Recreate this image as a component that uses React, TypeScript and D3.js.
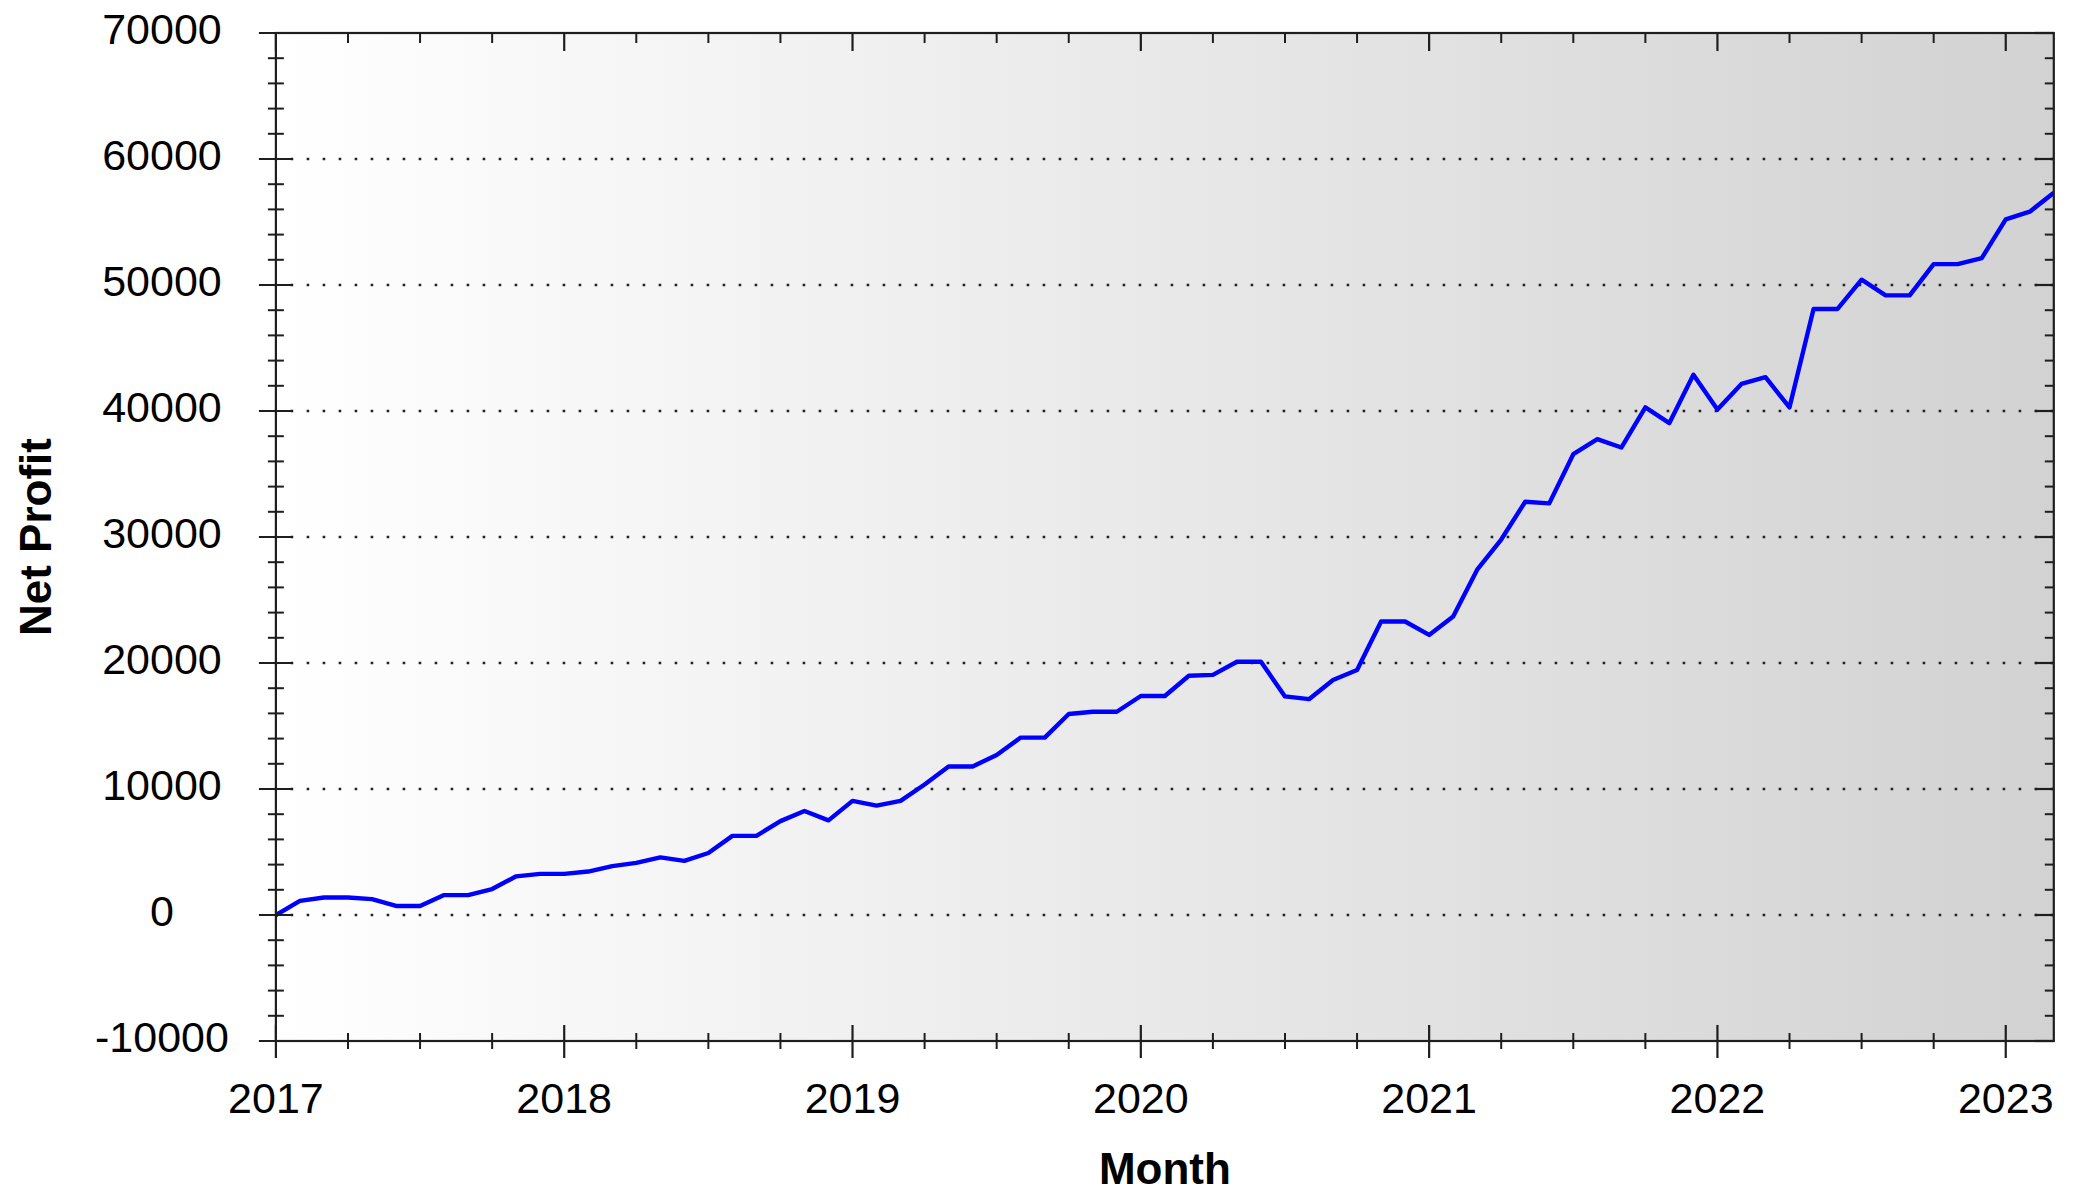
import React from "react";
import * as d3 from "d3";

// ---- data ----
const months = [
  "2017-01", "2017-02", "2017-03", "2017-04", "2017-05", "2017-06", "2017-07", "2017-08", "2017-09", "2017-10", "2017-11", "2017-12",
  "2018-01", "2018-02", "2018-03", "2018-04", "2018-05", "2018-06", "2018-07", "2018-08", "2018-09", "2018-10", "2018-11", "2018-12",
  "2019-01", "2019-02", "2019-03", "2019-04", "2019-05", "2019-06", "2019-07", "2019-08", "2019-09", "2019-10", "2019-11", "2019-12",
  "2020-01", "2020-02", "2020-03", "2020-04", "2020-05", "2020-06", "2020-07", "2020-08", "2020-09", "2020-10", "2020-11", "2020-12",
  "2021-01", "2021-02", "2021-03", "2021-04", "2021-05", "2021-06", "2021-07", "2021-08", "2021-09", "2021-10", "2021-11", "2021-12",
  "2022-01", "2022-02", "2022-03", "2022-04", "2022-05", "2022-06", "2022-07", "2022-08", "2022-09", "2022-10", "2022-11", "2022-12",
  "2023-01", "2023-02", "2023-03",
];

const netProfit = [
  0, 1120, 1390, 1390, 1260, 720, 720, 1580, 1580, 2060, 3070, 3260,
  3260, 3450, 3880, 4140, 4570, 4300, 4920, 6280, 6280, 7450, 8250, 7510,
  9060, 8680, 9060, 10360, 11790, 11790, 12700, 14080, 14080, 15950, 16130, 16130,
  17380, 17380, 18990, 19060, 20100, 20100, 17350, 17130, 18650, 19440, 23290, 23290,
  22230, 23690, 27410, 29800, 32800, 32670, 36570, 37770, 37100, 40290, 39040, 42870,
  40110, 42150, 42680, 40290, 48100, 48100, 50420, 49180, 49180, 51660, 51660, 52130,
  55210, 55820, 57320,
];

const yearLabels = ["2017", "2018", "2019", "2020", "2021", "2022", "2023"];
const yMajorTicks = [-10000, 0, 10000, 20000, 30000, 40000, 50000, 60000, 70000];
const yMinorStep = 2000;
const quarterMonths = ["01", "04", "07", "10"];

const xTitle = "Month";
const yTitle = "Net Profit";

// ---- layout ----
const W = 2080;
const H = 1192;
const PL = 275.9;
const PR = 2053.8;
const PT = 33;
const PB = 1041;
const FONT = "'Liberation Sans', Arial, Helvetica, sans-serif";
const AX = "#1e1e1e";

export default function App() {
  const x = d3.scaleLinear().domain([0, months.length - 1]).range([PL, PR]);
  const y = d3.scaleLinear().domain([-10000, 70000]).range([PB, PT]);

  const lineGen = d3
    .line<number>()
    .x((_, i) => x(i))
    .y((d) => y(d));

  const yMinor = d3.range(-10000, 70000 + 1, yMinorStep).filter((v) => !yMajorTicks.includes(v));
  const quarterIdx = months
    .map((m, i) => ({ m, i }))
    .filter((d) => quarterMonths.includes(d.m.slice(5)));
  const yearIdx = yearLabels.map((yr) => ({ yr, i: months.indexOf(yr + "-01") }));
  const minorX = quarterIdx.filter((d) => d.m.slice(5) !== "01");
  const gridVals = yMajorTicks.filter((v) => v !== -10000 && v !== 70000);

  return (
    <svg
      width={W}
      height={H}
      viewBox={`0 0 ${W} ${H}`}
      style={{ position: "absolute", left: 0, top: 0, display: "block", background: "#ffffff" }}
      fontFamily={FONT}
    >
      <defs>
        <linearGradient id="bg" x1="0" y1="0" x2="1" y2="0">
          <stop offset="0%" stopColor="#ffffff" />
          <stop offset="100%" stopColor="#d2d2d2" />
        </linearGradient>
        <clipPath id="plotclip">
          <rect x={PL} y={PT} width={PR - PL} height={PB - PT} />
        </clipPath>
      </defs>

      <rect x={PL} y={PT} width={PR - PL} height={PB - PT} fill="url(#bg)" />

      {/* dotted gridlines */}
      {gridVals.map((v) => (
        <line
          key={"g" + v}
          x1={PL - 1.25}
          x2={PR}
          y1={y(v)}
          y2={y(v)}
          stroke="#222222"
          strokeWidth={2.6}
          strokeDasharray="2.6 13.4"
        />
      ))}

      {/* data line */}
      <path
        d={lineGen(netProfit) || ""}
        fill="none"
        stroke="#0000ff"
        strokeWidth={4.4}
        strokeLinejoin="round"
        clipPath="url(#plotclip)"
      />

      {/* frame */}
      <rect x={PL} y={PT} width={PR - PL} height={PB - PT} fill="none" stroke={AX} strokeWidth={2.2} />

      {/* left axis ticks */}
      {yMajorTicks.map((v) => (
        <line key={"ylM" + v} x1={PL - 17} x2={PL + 17} y1={y(v)} y2={y(v)} stroke={AX} strokeWidth={2.2} />
      ))}
      {yMinor.map((v) => (
        <line key={"ylm" + v} x1={PL - 8} x2={PL + 8} y1={y(v)} y2={y(v)} stroke={AX} strokeWidth={2} />
      ))}
      {/* right axis ticks */}
      {yMajorTicks.map((v) => (
        <line key={"yrM" + v} x1={PR - 19} x2={PR} y1={y(v)} y2={y(v)} stroke={AX} strokeWidth={2.2} />
      ))}
      {yMinor.map((v) => (
        <line key={"yrm" + v} x1={PR - 9} x2={PR} y1={y(v)} y2={y(v)} stroke={AX} strokeWidth={2} />
      ))}

      {/* bottom axis ticks */}
      {yearIdx.map((d) => (
        <line key={"xbM" + d.yr} x1={x(d.i)} x2={x(d.i)} y1={PB - 16} y2={PB + 17} stroke={AX} strokeWidth={2.2} />
      ))}
      {minorX.map((d) => (
        <line key={"xbm" + d.m} x1={x(d.i)} x2={x(d.i)} y1={PB - 8} y2={PB + 8} stroke={AX} strokeWidth={2} />
      ))}
      {/* top axis ticks */}
      {yearIdx.map((d) => (
        <line key={"xtM" + d.yr} x1={x(d.i)} x2={x(d.i)} y1={PT} y2={PT + 18} stroke={AX} strokeWidth={2.2} />
      ))}
      {minorX.map((d) => (
        <line key={"xtm" + d.m} x1={x(d.i)} x2={x(d.i)} y1={PT} y2={PT + 10} stroke={AX} strokeWidth={2} />
      ))}

      {/* y tick labels */}
      {yMajorTicks.map((v) => (
        <text key={"yl" + v} x={162} y={y(v) + 11} textAnchor="middle" fontSize={43} fill="#000">
          {String(v)}
        </text>
      ))}

      {/* x tick labels */}
      {yearIdx.map((d) => (
        <text key={"xl" + d.yr} x={x(d.i)} y={1113} textAnchor="middle" fontSize={43} fill="#000">
          {d.yr}
        </text>
      ))}

      {/* axis titles */}
      <text x={(PL + PR) / 2} y={1184} textAnchor="middle" fontSize={44} fontWeight="bold" fill="#000">
        {xTitle}
      </text>
      <text
        transform={`translate(51, ${(PT + PB) / 2}) rotate(-90)`}
        textAnchor="middle"
        fontSize={44}
        fontWeight="bold"
        fill="#000"
      >
        {yTitle}
      </text>
    </svg>
  );
}
